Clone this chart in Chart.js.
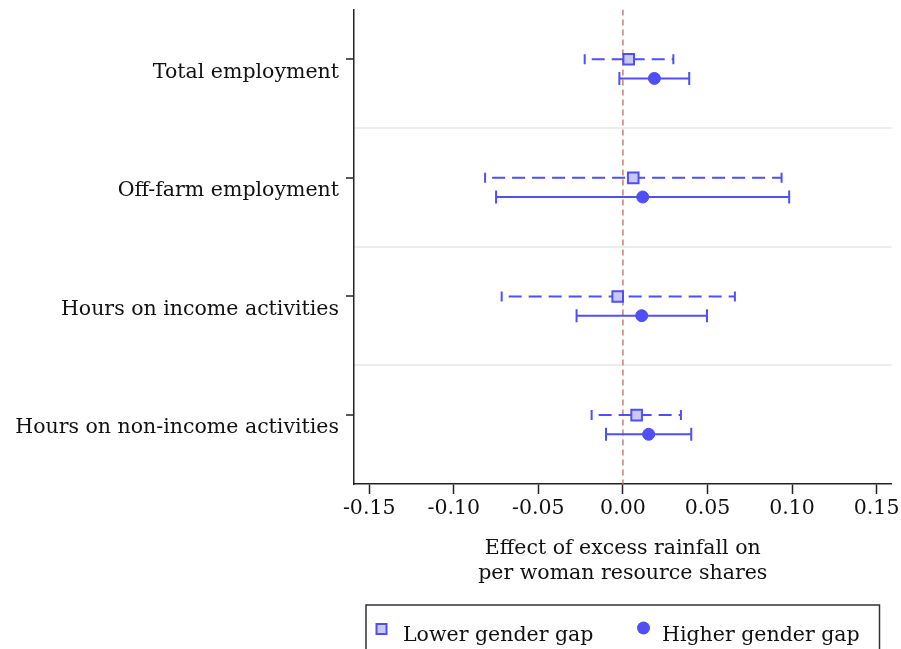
<!DOCTYPE html>
<html>
<head>
<meta charset="utf-8">
<script src="https://cdn.jsdelivr.net/npm/chart.js@4/dist/chart.umd.min.js"></script>
<style>
  html, body { margin: 0; padding: 0; background: #ffffff; }
  #wrap { width: 901px; height: 649px; }
</style>
</head>
<body>
<div id="wrap"><canvas id="c" width="901" height="649"></canvas></div>
<script>
// Outcomes, top to bottom
const categories = [
  'Total employment',
  'Off-farm employment',
  'Hours on income activities',
  'Hours on non-income activities'
];

// Lower gender gap: point estimate and confidence bounds
const lowerEst = [0.0034, 0.0061, -0.0031, 0.0081];
const lowerLo  = [-0.0226, -0.0815, -0.0717, -0.0185];
const lowerHi  = [0.0298, 0.0938, 0.0662, 0.0343];

// Higher gender gap: point estimate and confidence bounds
const higherEst = [0.0186, 0.0117, 0.0111, 0.0152];
const higherLo  = [-0.0021, -0.0750, -0.0274, -0.0100];
const higherHi  = [0.0392, 0.0983, 0.0497, 0.0404];

// Horizontal axis ticks
const xTicks = [-0.15, -0.10, -0.05, 0.00, 0.05, 0.10, 0.15];
const xTickLabels = ['-0.15', '-0.10', '-0.05', '0.00', '0.05', '0.10', '0.15'];

const seriesNames = ['Lower gender gap', 'Higher gender gap'];
const xTitle = ['Effect of excess rainfall on', 'per woman resource shares'];

// ---- styling ----
const FONT = 'DejaVu Serif';
const FONT_SIZE = 20.5;
const BLUE = '#4f4ff5';
const LAVENDER = '#c9c9f7';
const OFFSET = 0.081;          // vertical offset of each series around its outcome row

const lowerStyle = { pointStyle: 'rect', radius: 7.5, fill: LAVENDER, border: BLUE, borderWidth: 2 };
const higherStyle = { pointStyle: 'circle', radius: 6, fill: BLUE, border: BLUE, borderWidth: 1 };

function ciDataset(lo, hi, y, dashed) {
  return {
    type: 'scatter',
    data: [{ x: lo, y: y }, { x: hi, y: y }],
    showLine: true,
    borderColor: BLUE,
    borderWidth: 2,
    borderDash: dashed ? [13, 7] : [],
    borderDashOffset: dashed ? 13 : 0,
    pointStyle: 'line',
    pointRotation: 90,
    pointRadius: dashed ? 5 : 6.5,
    pointBorderWidth: 2,
    pointBorderColor: BLUE,
    pointBackgroundColor: BLUE,
    order: 1
  };
}

const datasets = [];

// point estimates (drawn on top)
datasets.push({
  type: 'scatter',
  label: seriesNames[0],
  data: categories.map((c, i) => ({ x: lowerEst[i], y: i - OFFSET })),
  pointStyle: lowerStyle.pointStyle,
  pointRadius: lowerStyle.radius,
  backgroundColor: lowerStyle.fill,
  borderColor: lowerStyle.border,
  borderWidth: lowerStyle.borderWidth,
  order: 0
});
datasets.push({
  type: 'scatter',
  label: seriesNames[1],
  data: categories.map((c, i) => ({ x: higherEst[i], y: i + OFFSET })),
  pointStyle: higherStyle.pointStyle,
  pointRadius: higherStyle.radius,
  backgroundColor: higherStyle.fill,
  borderColor: higherStyle.border,
  borderWidth: higherStyle.borderWidth,
  order: 0
});

// confidence intervals
categories.forEach((c, i) => {
  datasets.push(ciDataset(lowerLo[i], lowerHi[i], i - OFFSET, true));
  datasets.push(ciDataset(higherLo[i], higherHi[i], i + OFFSET, false));
});

// reference line at zero
datasets.push({
  type: 'scatter',
  data: [{ x: 0, y: -0.5 }, { x: 0, y: categories.length - 0.5 }],
  showLine: true,
  borderColor: 'rgba(196, 110, 110, 0.85)',
  borderWidth: 1.6,
  borderDash: [6, 4],
  pointRadius: 0,
  order: 2
});

// framed legend below the axis title, centred on the plot region
const framedLegend = {
  id: 'framedLegend',
  afterDraw(chart) {
    const { ctx, chartArea } = chart;
    const left = chartArea.left + 12;
    const right = chartArea.right - 12;
    const top = chartArea.bottom + 121;
    ctx.save();
    ctx.strokeStyle = '#333333';
    ctx.lineWidth = 1.5;
    ctx.strokeRect(left, top, right - left, chart.height - top + 20);

    const markerY = top + 24;
    const textY = top + 36;
    ctx.font = FONT_SIZE + 'px "' + FONT + '"';
    ctx.fillStyle = '#111111';
    ctx.textBaseline = 'alphabetic';
    ctx.textAlign = 'left';

    // Lower gender gap
    let x = left + 15.5;
    ctx.beginPath();
    ctx.rect(x - 5, markerY - 5, 10, 10);
    ctx.fillStyle = lowerStyle.fill;
    ctx.fill();
    ctx.lineWidth = 2;
    ctx.strokeStyle = lowerStyle.border;
    ctx.stroke();
    ctx.fillStyle = '#111111';
    ctx.fillText(seriesNames[0], left + 37, textY);

    // Higher gender gap
    x = left + 277.5;
    ctx.beginPath();
    ctx.arc(x, markerY - 1, 6.5, 0, Math.PI * 2);
    ctx.fillStyle = higherStyle.fill;
    ctx.fill();
    ctx.fillStyle = '#111111';
    ctx.fillText(seriesNames[1], left + 296, textY);
    ctx.restore();
  }
};

new Chart(document.getElementById('c'), {
  type: 'scatter',
  data: { datasets },
  plugins: [framedLegend],
  options: {
    responsive: false,
    devicePixelRatio: 1,
    animation: false,
    events: [],
    layout: { padding: { top: 9, right: 9, bottom: 0, left: 0 } },
    plugins: {
      legend: { display: false },
      tooltip: { enabled: false }
    },
    scales: {
      x: {
        type: 'linear',
        min: -0.159,
        max: 0.1588,
        afterFit(scale) {
          scale.height = 165;
          scale.paddingLeft = 0;
          scale.paddingRight = 0;
        },
        afterBuildTicks(scale) { scale.ticks = xTicks.map(v => ({ value: v })); },
        ticks: {
          autoSkip: false,
          maxRotation: 0,
          padding: 2,
          color: '#111111',
          font: { family: FONT, size: FONT_SIZE },
          callback: (value, index) => xTickLabels[index]
        },
        grid: {
          drawOnChartArea: false,
          drawTicks: true,
          tickLength: 10,
          tickWidth: 1.5,
          tickColor: '#222222'
        },
        border: { display: true, color: '#222222', width: 1.5 },
        title: {
          display: true,
          text: xTitle,
          color: '#111111',
          font: { family: FONT, size: FONT_SIZE, lineHeight: 1.2 },
          padding: { top: 0, bottom: 63 }
        }
      },
      y: {
        type: 'linear',
        reverse: true,
        min: -0.5,
        max: categories.length - 0.5,
        afterFit(scale) {
          scale.width = 354;
          scale.paddingTop = 0;
          scale.paddingBottom = 0;
        },
        afterBuildTicks(scale) {
          const t = [];
          categories.forEach((c, i) => {
            t.push({ value: i - OFFSET });
            if (i < categories.length - 1) t.push({ value: i + 0.5 });
          });
          scale.ticks = t;
        },
        ticks: {
          autoSkip: false,
          padding: 7,
          labelOffset: 13,
          color: '#111111',
          font: { family: FONT, size: FONT_SIZE },
          callback: (value) => {
            const i = Math.round(value + OFFSET);
            return Math.abs(value - (i - OFFSET)) < 1e-6 ? categories[i] : '';
          }
        },
        grid: {
          drawTicks: true,
          tickLength: 8,
          tickWidth: 1.5,
          lineWidth: 2,
          color: (ctx) => (ctx.tick && Math.abs((ctx.tick.value % 1) - 0.5) < 1e-6) ? '#ececec' : 'rgba(0,0,0,0)',
          tickColor: (ctx) => (ctx.tick && Math.abs((ctx.tick.value % 1) - 0.5) < 1e-6) ? 'rgba(0,0,0,0)' : '#222222'
        },
        border: { display: true, color: '#222222', width: 1.5 }
      }
    }
  }
});
</script>
</body>
</html>
